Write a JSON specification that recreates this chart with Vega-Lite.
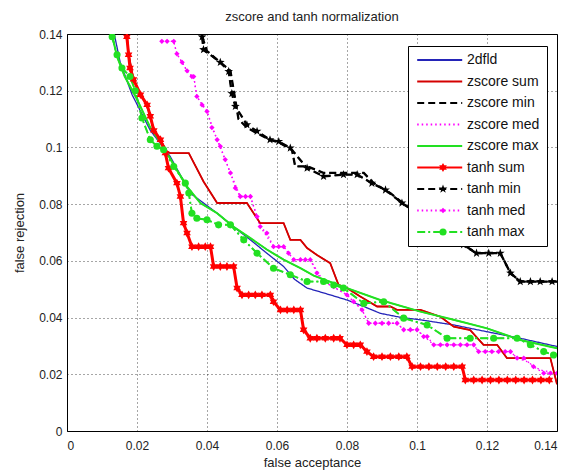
{
  "$schema": "https://vega.github.io/schema/vega-lite/v6.json",
  "width": 490,
  "height": 397,
  "autosize": {"type": "none"},
  "padding": {"left": 67, "top": 34, "right": 14, "bottom": 42},
  "background": "white",
  "config": {
    "font": "Liberation Sans",
    "view": {"stroke": "black", "strokeWidth": 1},
    "axis": {
      "labelFont": "Liberation Sans",
      "titleFont": "Liberation Sans",
      "labelFontSize": 12,
      "titleFontSize": 13,
      "titleFontWeight": "normal",
      "labelColor": "#222",
      "titleColor": "#222",
      "domain": false,
      "ticks": false,
      "grid": true,
      "gridColor": "black",
      "gridDash": [1, 3],
      "gridOpacity": 0.7,
      "gridWidth": 1
    },
    "legend": {
      "labelFont": "Liberation Sans",
      "labelFontSize": 14,
      "labelColor": "#111"
    }
  },
  "title": {
    "text": "zscore and tanh normalization",
    "fontSize": 13,
    "fontWeight": "normal",
    "font": "Liberation Sans",
    "color": "#222",
    "frame": "group",
    "offset": 4
  },
  "data": {
    "values": [
      {"s": "2dfld",
       "x": [0.0135,0.0152,0.0186,0.0238,0.0295,0.0343,0.0352,0.0429,0.0486,0.0524,0.0571,0.0619,0.065,0.0686,0.0752,0.08,0.0848,0.0895,0.0952,0.101,0.1105,0.12,0.1295,0.14],
       "y": [0.14,0.13,0.1186,0.106,0.0968,0.086,0.0839,0.0768,0.071,0.0674,0.0627,0.058,0.0535,0.0504,0.048,0.0462,0.0439,0.0415,0.0401,0.0392,0.0374,0.035,0.0327,0.0298]},
      {"s": "zscore sum",
       "x": [0.0171,0.0176,0.019,0.021,0.0229,0.0248,0.0267,0.0286,0.0295,0.0348,0.039,0.0429,0.0514,0.0552,0.0619,0.0638,0.0667,0.0686,0.0714,0.0752,0.0776,0.08,0.0838,0.0886,0.0924,0.0943,0.101,0.1067,0.1105,0.1152,0.119,0.1229,0.1257,0.1381,0.14],
       "y": [0.14,0.133,0.124,0.1186,0.115,0.106,0.1027,0.0985,0.098,0.098,0.088,0.0804,0.0804,0.0733,0.0733,0.0674,0.0674,0.0645,0.0621,0.0592,0.0515,0.0504,0.0474,0.0439,0.0439,0.0427,0.0427,0.0403,0.0368,0.0356,0.0304,0.0304,0.0257,0.0257,0.0165]},
      {"s": "zscore min",
       "x": [0.0386,0.04,0.0438,0.0467,0.0471,0.049,0.0514,0.0543,0.058,0.061,0.0643,0.0652,0.0686,0.0714,0.0733,0.0848,0.0876,0.0924,0.0971,0.1,0.105,0.11,0.1133,0.117,0.1238,0.1267,0.1295,0.14],
       "y": [0.139,0.134,0.13,0.127,0.124,0.11,0.107,0.105,0.1027,0.1015,0.099,0.0933,0.0933,0.092,0.091,0.091,0.0874,0.0839,0.0792,0.077,0.072,0.068,0.0655,0.0627,0.0627,0.0557,0.0527,0.0527]},
      {"s": "zscore med",
       "x": [0.0271,0.0305,0.0314,0.0343,0.0357,0.0362,0.0371,0.04,0.0429,0.0467,0.0495,0.0524,0.0552,0.059,0.0619,0.0648,0.0695,0.0733,0.08,0.0843,0.0862,0.0943,0.0962,0.1,0.1048,0.1162,0.1176,0.1267,0.1286,0.1314,0.1352,0.14],
       "y": [0.1374,0.1374,0.133,0.127,0.125,0.125,0.118,0.1127,0.1027,0.091,0.0827,0.0827,0.0721,0.065,0.065,0.0604,0.0604,0.0527,0.048,0.0427,0.038,0.038,0.0357,0.0357,0.0304,0.0304,0.028,0.028,0.0257,0.0245,0.0215,0.0204]},
      {"s": "zscore max",
       "x": [0.0128,0.0143,0.0165,0.02,0.0238,0.0276,0.0314,0.0343,0.0381,0.0429,0.0476,0.0524,0.0571,0.0619,0.0667,0.0705,0.08,0.0895,0.101,0.1105,0.12,0.1295,0.14],
       "y": [0.14,0.132,0.125,0.117,0.107,0.1,0.092,0.0862,0.0804,0.0768,0.072,0.068,0.064,0.0604,0.0574,0.0548,0.0504,0.0462,0.0421,0.0392,0.0362,0.0321,0.0292]},
      {"s": "tanh sum",
       "x": [0.0171,0.0176,0.018,0.019,0.021,0.0229,0.0238,0.0248,0.0267,0.0281,0.029,0.0314,0.0324,0.0333,0.0343,0.0357,0.0376,0.0395,0.041,0.0419,0.0438,0.0457,0.0476,0.0486,0.05,0.0519,0.0538,0.0557,0.0581,0.059,0.061,0.0629,0.0648,0.0667,0.0676,0.0695,0.0714,0.0738,0.0762,0.078,0.08,0.0819,0.0838,0.0857,0.0876,0.09,0.0924,0.0948,0.0971,0.0986,0.101,0.1034,0.1058,0.1082,0.1105,0.1129,0.1138,0.1162,0.1186,0.121,0.1234,0.1258,0.1282,0.1306,0.133,0.1354,0.1378],
       "y": [0.139,0.1327,0.128,0.124,0.1186,0.115,0.111,0.106,0.1027,0.098,0.0927,0.0874,0.0827,0.0733,0.0698,0.065,0.065,0.065,0.065,0.058,0.058,0.058,0.058,0.0504,0.048,0.048,0.048,0.048,0.048,0.0456,0.0427,0.0427,0.0427,0.0427,0.0357,0.0327,0.0327,0.0327,0.0327,0.0327,0.0304,0.0304,0.0304,0.028,0.0262,0.0262,0.0262,0.0262,0.0262,0.0227,0.0227,0.0227,0.0227,0.0227,0.0227,0.0227,0.018,0.018,0.018,0.018,0.018,0.018,0.018,0.018,0.018,0.018,0.018]},
      {"s": "tanh min",
       "x": [0.0386,0.039,0.0438,0.0462,0.0471,0.0481,0.0514,0.0543,0.058,0.0605,0.0638,0.0686,0.0733,0.079,0.0829,0.0871,0.091,0.0957,0.1,0.105,0.11,0.1133,0.117,0.1205,0.1238,0.1267,0.1295,0.1324,0.1352,0.1386],
       "y": [0.139,0.1345,0.13,0.1268,0.119,0.1145,0.108,0.1057,0.1027,0.1021,0.0998,0.0927,0.0898,0.0904,0.0904,0.0874,0.085,0.0804,0.077,0.072,0.068,0.0657,0.0627,0.0627,0.0627,0.0557,0.0527,0.0527,0.0527,0.0527]},
      {"s": "tanh med",
       "x": [0.0271,0.0286,0.0305,0.0314,0.0329,0.0343,0.0357,0.0362,0.0371,0.0386,0.04,0.0414,0.0429,0.0438,0.0452,0.0467,0.0481,0.0495,0.051,0.0524,0.0543,0.0552,0.0571,0.059,0.0605,0.0619,0.0633,0.0648,0.0667,0.0681,0.0695,0.0714,0.0733,0.0762,0.08,0.0819,0.0843,0.0862,0.0881,0.09,0.0919,0.0943,0.0962,0.0981,0.1,0.1019,0.1029,0.1048,0.1067,0.1086,0.1105,0.1124,0.1143,0.1162,0.1176,0.1195,0.1214,0.1233,0.1252,0.1267,0.1286,0.1305,0.1333,0.1362,0.1381,0.14],
       "y": [0.1374,0.1374,0.1374,0.133,0.13,0.127,0.125,0.125,0.118,0.115,0.1127,0.107,0.1027,0.1004,0.0957,0.091,0.0857,0.0827,0.0827,0.0827,0.0756,0.0721,0.0698,0.065,0.065,0.065,0.0627,0.0604,0.0604,0.0604,0.0604,0.0557,0.0527,0.0509,0.048,0.0456,0.0427,0.038,0.038,0.038,0.038,0.038,0.0357,0.0357,0.0357,0.0333,0.0333,0.0304,0.0304,0.0304,0.0304,0.0304,0.0304,0.0304,0.028,0.028,0.028,0.028,0.028,0.028,0.0257,0.0257,0.0227,0.0204,0.0204,0.0204]},
      {"s": "tanh max",
       "x": [0.0129,0.0143,0.0157,0.018,0.0195,0.0214,0.0238,0.0257,0.0276,0.0305,0.0338,0.0348,0.0357,0.0371,0.04,0.0433,0.0467,0.0505,0.0543,0.059,0.0638,0.0686,0.0733,0.0762,0.079,0.0848,0.0905,0.0962,0.1029,0.1086,0.1152,0.1219,0.1286,0.1324,0.1362,0.139],
       "y": [0.139,0.1327,0.128,0.125,0.12,0.1104,0.1027,0.1004,0.0992,0.0933,0.0874,0.0839,0.0768,0.075,0.0745,0.0727,0.0727,0.0674,0.0627,0.0574,0.0551,0.0527,0.0527,0.0515,0.0504,0.045,0.0456,0.0398,0.0374,0.0327,0.0327,0.0327,0.0327,0.0304,0.028,0.0268]}
    ]
  },
  "transform": [{"flatten": ["x", "y"]}],
  "encoding": {
    "x": {"field": "x", "type": "quantitative",
          "scale": {"domain": [0, 0.14], "nice": false},
          "axis": {"title": "false acceptance", "values": [0,0.02,0.04,0.06,0.08,0.1,0.12,0.14], "format": "~g", "labelPadding": 9, "titlePadding": 5}},
    "y": {"field": "y", "type": "quantitative",
          "scale": {"domain": [0, 0.14], "nice": false},
          "axis": {"title": "false rejection", "values": [0,0.02,0.04,0.06,0.08,0.1,0.12,0.14], "format": "~g", "labelPadding": 5, "titlePadding": 12}}
  },
  "layer": [
    {
      "mark": {"type": "line", "clip": true, "strokeWidth": 1.3},
      "encoding": {
        "color": {"field": "s", "type": "nominal", "title": null,
          "scale": {"domain": ["2dfld","zscore sum","zscore min","zscore med","zscore max","tanh sum","tanh min","tanh med","tanh max"],
                    "range": ["#2424b8","#d40000","#000000","#ff00ff","#22e022","#ff0000","#000000","#ff00ff","#22e022"]},
          "legend": {"orient": "none", "legendX": 341, "legendY": 12, "fillColor": "white", "strokeColor": "black", "padding": 7,
                     "symbolSize": 144, "symbolType": "M-0.8,0H6.7", "symbolStrokeWidth": 2, "rowPadding": 7.5, "labelOffset": 38}},
        "strokeDash": {"field": "s", "type": "nominal", "title": null,
          "scale": {"domain": ["2dfld","zscore sum","zscore min","zscore med","zscore max","tanh sum","tanh min","tanh med","tanh max"],
                    "range": [[1,0],[1,0],[7,4],[1.5,3],[1,0],[1,0],[7,4],[1.5,3],[8,3,2,3]]}}
      }
    },
    {
      "transform": [{"filter": {"field": "s", "oneOf": ["zscore min","tanh min"]}}],
      "mark": {"type": "line", "clip": true, "strokeWidth": 2.3, "color": "black", "strokeDash": [7, 4]},
      "encoding": {"detail": {"field": "s", "type": "nominal"}}
    },
    {
      "transform": [{"filter": {"field": "s", "oneOf": ["zscore sum"]}}],
      "mark": {"type": "line", "clip": true, "strokeWidth": 1.8, "color": "#d40000"},
      "encoding": {"detail": {"field": "s", "type": "nominal"}}
    },
    {
      "transform": [{"filter": {"field": "s", "oneOf": ["zscore max"]}}],
      "mark": {"type": "line", "clip": true, "strokeWidth": 2, "color": "#22e022"},
      "encoding": {"detail": {"field": "s", "type": "nominal"}}
    },
    {
      "transform": [{"filter": {"field": "s", "oneOf": ["tanh max"]}}],
      "mark": {"type": "line", "clip": true, "strokeWidth": 2, "color": "#22e022", "strokeDash": [8, 3, 2, 3]},
      "encoding": {"detail": {"field": "s", "type": "nominal"}}
    },
    {
      "transform": [{"filter": {"field": "s", "oneOf": ["tanh sum"]}}],
      "mark": {"type": "line", "clip": true, "strokeWidth": 3, "color": "#ff0000"},
      "encoding": {"detail": {"field": "s", "type": "nominal"}}
    },
    {
      "transform": [{"filter": {"field": "s", "oneOf": ["tanh sum","tanh min","tanh med","tanh max"]}}],
      "mark": {"type": "point", "filled": true, "clip": true, "opacity": 1, "size": 50, "strokeWidth": 0},
      "encoding": {
        "fill": {"field": "s", "type": "nominal", "title": null,
          "scale": {"domain": ["tanh sum","tanh min","tanh med","tanh max"], "range": ["#ff0000","#000000","#ff00ff","#22e022"]},
          "legend": {"orient": "none", "legendX": 369, "legendY": 126.5, "padding": 0, "rowPadding": 7.5, "labelExpr": "' '", "labelFontSize": 14, "symbolStrokeWidth": 0, "symbolSize": 50}},
        "shape": {"field": "s", "type": "nominal", "title": null,
          "scale": {"domain": ["tanh sum","tanh min","tanh med","tanh max"],
                    "range": ["M0,-1.25L1.08,0.625L-1.08,0.625Z M0,1.25L-1.08,-0.625L1.08,-0.625Z",
                              "M0,-1.3L0.306,-0.421L1.236,-0.402L0.494,0.161L0.764,1.052L0,0.52L-0.764,1.052L-0.494,0.161L-1.236,-0.402L-0.306,-0.421Z",
                              "M0,-0.75L0.75,0L0,0.75L-0.75,0Z",
                              "circle"]},
          "legend": {"orient": "none", "legendX": 369, "legendY": 126.5, "padding": 0, "rowPadding": 7.5, "labelExpr": "' '", "labelFontSize": 14, "symbolStrokeWidth": 0, "symbolSize": 50}}
      }
    }
  ]
}
